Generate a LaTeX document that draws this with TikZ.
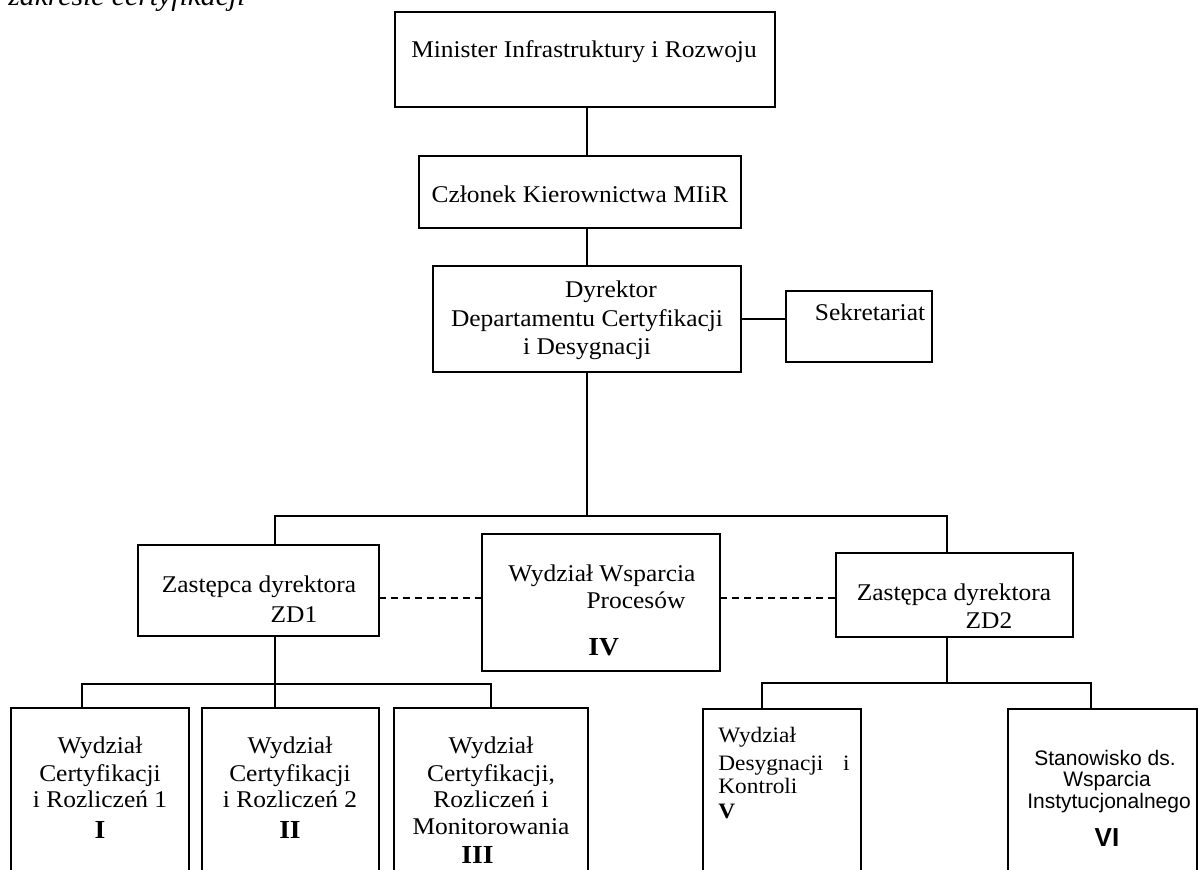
\documentclass[tikz,border=0pt]{standalone}
\usepackage{fontspec}
\setmainfont{Liberation Serif}[FakeStretch=1.06]
\newfontfamily\sansf{Liberation Sans}
\tikzset{
  box/.style={draw, line width=1pt, inner sep=0pt, outer sep=0pt},
  conn/.style={line width=0.8pt},
  dashconn/.style={line width=0.8pt, dash pattern=on 3.5pt off 2.5pt},
  txt/.style={anchor=base, inner sep=0pt, font=\fontsize{12}{14}\selectfont},
  txtl/.style={txt, anchor=base west},
  num/.style={font=\fontsize{13}{15}\selectfont\bfseries},
  small/.style={font=\fontsize{11}{13}\selectfont},
  sans/.style={font=\fontsize{10.5}{12}\selectfont\sansf},
  sansnum/.style={font=\fontsize{13}{15}\selectfont\sansf\bfseries},
}
\begin{document}
\begin{tikzpicture}[x=0.5pt,y=-0.5pt]
\useasboundingbox (0,0) rectangle (1200,869);

% cut-off title
\node[txtl, font=\fontsize{14}{16}\selectfont\itshape] (title) at (8,5) {zakresie certyfikacji};

% boxes
\node[box, minimum width=190pt,  minimum height=47.5pt] (min) at (585,59.5) {};
\node[box, minimum width=161pt,  minimum height=36pt]   (czl) at (580,192) {};
\node[box, minimum width=154pt,  minimum height=53pt]   (dyr) at (587,319) {};
\node[box, minimum width=73pt,   minimum height=35.5pt] (sek) at (859,326.5) {};
\node[box, minimum width=120.5pt,minimum height=45.5pt] (zd1) at (258.5,590.5) {};
\node[box, minimum width=119pt,  minimum height=68.5pt] (wwp) at (601,602.5) {};
\node[box, minimum width=118.5pt,minimum height=42pt]   (zd2) at (954.5,595) {};
\node[box, minimum width=89pt,   minimum height=91pt]   (w1)  at (100,799) {};
\node[box, minimum width=88.5pt, minimum height=91pt]   (w2)  at (290.5,799) {};
\node[box, minimum width=97pt,   minimum height=91pt]   (w3)  at (491,799) {};
\node[box, minimum width=79pt,   minimum height=90.5pt] (w5)  at (782,799.5) {};
\node[box, minimum width=94.5pt, minimum height=90.5pt] (w6)  at (1102.5,799.5) {};

% texts
\node[txt] (t-min) at (584,57) {Minister Infrastruktury i Rozwoju};
\node[txt] (t-czl) at (580,202) {Członek Kierownictwa MIiR};
\node[txt] (t-dyr1) at (611,297) {Dyrektor};
\node[txt] (t-dyr2) at (587,326) {Departamentu Certyfikacji};
\node[txt] (t-dyr3) at (587,354) {i Desygnacji};
\node[txt] (t-sek) at (870,320) {Sekretariat};
\node[txt] (t-zd1a) at (259,592) {Zastępca dyrektora};
\node[txt] (t-zd1b) at (294,622) {ZD1};
\node[txt] (t-zd2a) at (954,600) {Zastępca dyrektora};
\node[txt] (t-zd2b) at (989,628) {ZD2};
\node[txt] (t-wwp1) at (602,581) {Wydział Wsparcia};
\node[txt] (t-wwp2) at (636,608) {Procesów};
\node[txtl, num] (t-wwp3) at (588,655) {IV};

\node[txt] (t-w1a) at (100,753) {Wydział};
\node[txt] (t-w1b) at (100,781) {Certyfikacji};
\node[txt] (t-w1c) at (100,807) {i Rozliczeń 1};
\node[txt, num] (t-w1d) at (100,838) {I};

\node[txt] (t-w2a) at (290,753) {Wydział};
\node[txt] (t-w2b) at (290,781) {Certyfikacji};
\node[txt] (t-w2c) at (290,807) {i Rozliczeń 2};
\node[txt, num] (t-w2d) at (290,838) {II};

\node[txt] (t-w3a) at (491,753) {Wydział};
\node[txt] (t-w3b) at (491,781) {Certyfikacji,};
\node[txt] (t-w3c) at (491,807) {Rozliczeń i};
\node[txt] (t-w3d) at (491,834) {Monitorowania};
\node[txtl, num] (t-w3e) at (461,863) {III};

\node[txtl, small] (t-w5a) at (718,742) {Wydział};
\node[txtl, small] (t-w5b) at (718,770) {Desygnacji\hspace{0.9em}i};
\node[txtl, small] (t-w5c) at (718,793) {Kontroli};
\node[txtl, font=\fontsize{11}{13}\selectfont\bfseries] (t-w5d) at (718,818) {V};

\node[txt, sans] (t-w6a) at (1105,765) {Stanowisko ds.};
\node[txt, sans] (t-w6b) at (1107,786) {Wsparcia};
\node[txt, sans] (t-w6c) at (1109,808) {Instytucjonalnego};
\node[txt, sansnum] (t-w6d) at (1107,846) {VI};

% junction coordinates
\coordinate (j0) at (587,516);
\coordinate (a1) at (275,684);
\coordinate (a2) at (947,683);
\coordinate (c1) at (82,684);
\coordinate (c3) at (491,684);
\coordinate (c5) at (762,683);
\coordinate (c6) at (1091,683);
\coordinate (dy) at (0,598);

% connectors
\draw[conn] (min.south -| j0) -- (czl.north -| j0);
\draw[conn] (czl.south -| j0) -- (dyr.north -| j0);
\draw[conn] (dyr.east) -- (dyr.east -| sek.west);
\draw[conn] (dyr.south) -- (j0);
\draw[conn] (zd1.north -| a1) |- (j0) -| (zd2.north -| a2);
\draw[conn] (zd1.south -| a1) -- (w2.north -| a1);
\draw[conn] (w1.north -| c1) -- (c1) -- (c3) -- (w3.north -| c3);
\draw[conn] (zd2.south -| a2) -- (a2);
\draw[conn] (w5.north -| c5) -- (c5) -- (c6) -- (w6.north -| c6);
\draw[dashconn] (zd1.east |- dy) -- (wwp.west |- dy);
\draw[dashconn] (wwp.east |- dy) -- (zd2.west |- dy);
\end{tikzpicture}
\end{document}
